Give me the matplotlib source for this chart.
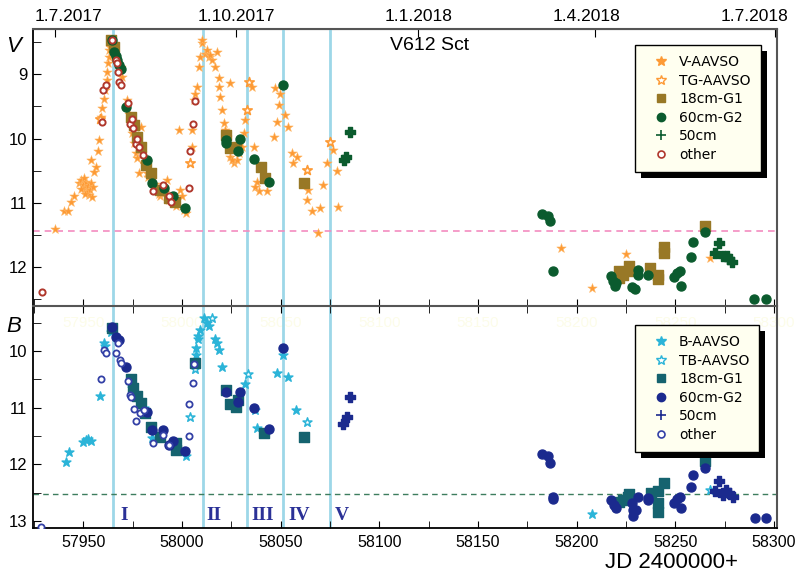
import matplotlib
matplotlib.use("Agg")
import matplotlib.pyplot as plt
from matplotlib.patches import Rectangle
from matplotlib.lines import Line2D
from matplotlib.ticker import MultipleLocator

# ---------------- data (JD-2400000, magnitude) ----------------
# V band
v_aavso_jd = [57935.8, 57940.0, 57942.0, 57943.7, 57945.4, 57947.7, 57948.7, 57949.7, 57950.8, 57951.3,
              57951.8, 57952.3, 57952.8, 57953.3, 57953.8, 57954.3, 57950.3, 57953.8, 57956.3, 57957.2,
              57958.0, 57958.8, 57959.7, 57960.5, 57960.9, 57961.9, 57962.2, 57962.5, 57963.0, 57963.9,
              57964.4, 57968.9, 57969.8, 57972.3, 57973.1, 57974.0, 57974.8, 57975.7, 57976.5, 57978.2,
              57979.0, 57979.9, 57980.7, 57982.4, 57984.1, 57985.8, 57987.5, 57989.1, 57990.8, 57992.5,
              57993.3, 57995.9, 57999.2, 58000.9, 58001.8, 57998.4, 58005.1, 58005.1, 58006.0, 58006.8,
              58007.7, 58008.5, 58009.3, 58010.2, 58010.2, 58011.9, 58013.5, 58015.2, 58016.9, 58017.8,
              58018.6, 58019.4, 58020.3, 58021.1, 58022.0, 58022.8, 58024.5, 58024.5, 58026.2, 58027.9,
              58030.4, 58031.2, 58032.1, 58035.4, 58036.3, 58038.0, 58038.8, 58043.0,
              58046.4, 58047.2, 58048.1, 58048.9, 58049.7, 58052.3, 58053.9, 58055.6, 58056.5, 58058.2,
              58064.0, 58063.2, 58065.7, 58069.9, 58069.1, 58071.6, 58073.3, 58076.6, 58078.4, 58079.2,
              58192.3, 58208.0, 58225.1, 58267.4,
              57949.0, 57951.0, 57954.8, 57955.5, 57962.8, 57963.5, 57977.0, 57983.0, 57986.5, 57988.3,
              57991.5, 57994.2, 57997.0, 58000.0, 58012.5, 58014.2, 58019.0, 58025.5, 58029.0, 58037.2]
v_aavso_mag = [11.41, 11.12, 11.13, 10.98, 10.90, 10.69, 10.64, 10.72, 10.77, 10.67,
               10.83, 10.74, 10.88, 10.80, 10.69, 10.91, 10.61, 10.33, 10.44, 10.20,
               10.02, 9.66, 9.53, 9.38, 9.25, 9.09, 8.96, 8.83, 8.73, 8.47,
               8.52, 8.89, 9.04, 9.40, 9.61, 9.76, 9.92, 10.07, 10.23, 10.54,
               9.82, 10.23, 10.38, 10.54, 10.64, 10.75, 10.80, 10.90, 10.75, 10.64,
               10.95, 11.00, 10.80, 11.11, 11.16, 9.87, 10.13, 9.87, 9.40, 9.30,
               9.20, 8.89, 8.73, 8.52, 8.47, 8.68, 8.73, 8.78, 8.89, 8.65,
               9.20, 9.35, 9.56, 9.76, 9.87, 9.97, 9.14, 10.28, 10.38, 10.33,
               10.13, 9.92, 9.71, 9.20, 10.13, 10.67, 10.82, 10.82,
               9.97, 9.22, 9.74, 9.48, 9.30, 9.64, 9.82, 10.23, 10.38, 10.28,
               10.80, 10.95, 11.13, 11.08, 11.47, 10.72, 10.38, 10.18, 10.51, 11.06,
               11.70, 12.32, 11.79, 11.86,
               10.78, 10.86, 10.76, 10.52, 8.62, 8.58, 10.30, 10.60, 10.70, 10.86,
               10.83, 10.92, 11.05, 10.90, 8.62, 8.70, 9.05, 10.33, 10.22, 10.75]

v_tg_jd = [58004.3, 58032.9, 58034.2, 58075.0, 58063.2, 57958.5, 57981.0]
v_tg_mag = [10.38, 9.56, 9.12, 10.05, 10.49, 9.70, 10.40]

v_18cm_jd = [57963.9, 57965.6, 57974.0, 57975.7, 57977.4, 57979.0, 57981.6, 57984.1, 57989.1, 57993.3,
             57996.7, 58022.1, 58024.5, 58027.5, 58040.0, 58042.2, 58062.0,
             58221.4, 58221.4, 58223.5, 58226.5, 58226.5, 58237.1, 58241.3, 58241.3, 58244.2, 58244.2, 58265.2]
v_18cm_mag = [8.47, 8.58, 9.66, 9.79, 9.97, 10.13, 10.41, 10.54, 10.80, 10.93,
              10.98, 9.95, 10.15, 10.13, 10.44, 10.62, 10.69,
              12.06, 12.17, 12.13, 11.99, 12.06, 12.01, 12.12, 12.19, 11.68, 11.78, 11.36]

v_60cm_jd = [57964.4, 57965.6, 57966.4, 57967.3, 57968.1, 57968.9, 57971.5, 57982.4, 57984.6, 57990.8,
             57995.3, 58001.4, 58022.5, 58022.5, 58028.2, 58029.2, 58036.3, 58044.3, 58051.1,
             58182.4, 58185.7, 58186.4, 58188.1, 58217.2, 58218.6, 58219.4, 58219.8, 58228.2, 58229.5,
             58231.0, 58231.2, 58236.2, 58249.2, 58250.9, 58252.1, 58253.1, 58258.1, 58258.9, 58265.2,
             58290.0, 58295.8]
v_60cm_mag = [8.47, 8.65, 8.71, 8.78, 8.86, 8.91, 9.51, 10.33, 10.69, 10.77,
              10.89, 11.08, 10.02, 10.07, 10.20, 10.01, 10.32, 10.68, 9.16,
              11.17, 11.21, 11.29, 12.06, 12.14, 12.22, 12.30, 12.24, 12.31, 12.34,
              12.04, 12.12, 12.12, 12.15, 12.09, 12.06, 12.30, 11.84, 11.61, 11.46,
              12.50, 12.49]

v_50cm_jd = [58085.1, 58083.1, 58082.1, 58271.9, 58269.9, 58273.9, 58276.1, 58277.3, 58278.6]
v_50cm_mag = [9.89, 10.28, 10.34, 11.62, 11.78, 11.83, 11.82, 11.87, 11.92]

v_other_jd = [57928.9, 57959.3, 57960.2, 57961.5, 57964.4, 57966.4, 57967.3, 57967.6, 57968.1, 57969.3,
              57972.6, 57973.6, 57974.5, 57975.3, 57976.5, 57977.4, 57978.2, 57980.4, 57985.4, 57990.3,
              57993.3, 57994.5, 58003.4, 58004.3, 58005.4, 58006.5]
v_other_mag = [12.39, 9.74, 9.24, 9.17, 8.46, 8.77, 8.83, 8.96, 9.12, 9.17,
               9.44, 9.78, 9.70, 9.83, 10.08, 10.01, 10.13, 10.26, 10.82, 10.72,
               10.90, 10.98, 10.77, 10.20, 9.78, 9.42]

# B band
b_aavso_jd = [57941.2, 57942.5, 57949.6, 57951.3, 57952.4, 57953.8, 57958.2, 57960.5, 57960.9, 57963.9,
              57974.8, 57980.7, 57985.0, 57996.7, 58002.1, 58006.5, 58007.2, 58007.3, 58008.2, 58008.3,
              58009.3, 58011.0, 58012.7, 58013.9, 58016.9, 58017.8, 58018.9, 58020.3, 58032.1,
              58037.1, 58038.0, 58048.1, 58051.1, 58053.9, 58057.8, 58208.0]
b_aavso_mag = [11.96, 11.79, 11.60, 11.57, 11.55, 11.58, 10.79, 9.86, 9.92, 9.66,
               10.66, 11.01, 11.54, 11.75, 11.86, 10.22, 10.07, 9.95, 9.79, 9.74,
               9.63, 9.41, 9.51, 9.56, 9.78, 9.86, 9.98, 10.29, 10.59,
               11.05, 11.36, 10.38, 10.07, 10.46, 11.05, 12.88]

b_tb_jd = [58006.5, 58033.2, 58063.2, 58267.7, 58015.2, 58004.3]
b_tb_mag = [10.31, 10.41, 11.25, 12.45, 9.42, 11.16]

b_18cm_jd = [57964.4, 57974.3, 57975.1, 57977.4, 57979.4, 57981.0, 57984.4, 57989.1, 57997.2, 57997.1,
             58006.5, 58022.3, 58024.1, 58027.5, 58028.2, 58041.3, 58062.0,
             58221.4, 58223.5, 58226.1, 58226.5, 58237.4, 58241.3, 58241.3, 58241.3, 58244.2, 58265.2]
b_18cm_mag = [9.60, 10.50, 10.66, 10.79, 10.92, 11.10, 11.34, 11.51, 11.63, 11.75,
              10.21, 10.69, 10.94, 10.98, 10.86, 11.45, 11.51,
              12.67, 12.63, 12.57, 12.52, 12.51, 12.48, 12.69, 12.85, 12.33, 11.95]

b_60cm_jd = [57964.4, 57966.4, 57968.1, 57971.5, 57982.4, 57984.6, 57990.5, 57993.3, 57995.3, 58001.3,
             58022.3, 58028.2, 58029.2, 58036.3, 58044.3, 58051.1,
             58182.4, 58185.7, 58186.4, 58188.1, 58188.1, 58217.2, 58218.9, 58219.8, 58228.2, 58228.7,
             58228.5, 58230.2, 58231.2, 58236.2, 58236.3, 58249.2, 58250.9, 58252.1, 58253.1, 58258.1,
             58259.1, 58265.2, 58290.1, 58295.8]
b_60cm_mag = [9.58, 9.75, 9.81, 10.29, 11.07, 11.39, 11.39, 11.66, 11.58, 11.76,
              10.72, 10.90, 10.72, 11.01, 11.38, 9.95,
              11.82, 11.85, 11.98, 12.57, 12.61, 12.63, 12.72, 12.78, 12.69, 12.80,
              12.92, 12.80, 12.57, 12.60, 12.63, 12.68, 12.62, 12.57, 12.78, 12.40,
              12.19, 12.07, 12.94, 12.94]

b_50cm_jd = [58081.7, 58083.4, 58085.1, 58271.9, 58269.9, 58273.9, 58275.8, 58277.3, 58279.0]
b_50cm_mag = [11.28, 11.16, 10.82, 12.29, 12.48, 12.55, 12.45, 12.51, 12.58]

b_other_jd = [57928.5, 57960.5, 57961.5, 57959.2, 57967.8, 57966.4, 57968.6, 57968.9, 57972.6, 57973.6,
              57974.3, 57975.7, 57976.5, 57978.5, 57980.7, 57985.4, 57990.5, 57993.3, 58003.8, 58006.3,
              58005.4, 58003.4]
b_other_mag = [13.10, 9.98, 10.03, 10.50, 9.86, 10.03, 10.16, 10.21, 10.53, 10.78,
               10.82, 11.02, 11.23, 11.10, 11.04, 11.62, 11.48, 11.66, 10.94, 10.23,
               10.56, 11.50]

event_jd = [57965.0, 58010.5, 58033.0, 58051.0, 58075.0]
event_labels = ["I", "II", "III", "IV", "V"]
event_label_jd = [57970.6, 58016.4, 58040.8, 58059.3, 58080.9]
v_ref_level = 11.44
b_ref_level = 12.52

date_tick_jd = [57935.5, 58027.5, 58119.5, 58209.5, 58300.5]
date_tick_labels = ["1.7.2017", "1.10.2017", "1.1.2018", "1.4.2018", "1.7.2018"]
date_label_jd = [57942.5, 58027.7, 58120.1, 58205.1, 58289.9]

# ---------------- styling ----------------
C_ORANGE = "#fd9a35"
C_OLIVE = "#987826"
C_DGREEN = "#0b5b2e"
C_DRED = "#b0372c"
C_CYAN = "#2bb4d8"
C_TEAL = "#15636f"
C_NAVY = "#1b2a8e"
C_OPENB = "#3340a6"
C_VLINE = "#9dd7e8"

plt.rcParams["font.family"] = ["Liberation Sans", "DejaVu Sans"]

W, H = 803, 573
fig = plt.figure(figsize=(W / 100, H / 100), dpi=100)

def fx(px):
    return px / W

def fy(py):
    return 1 - py / H

x0, x1 = 33, 777
yt0, ymid, yb1 = 29.3, 305.7, 528.3
axV = fig.add_axes([fx(x0), fy(ymid), fx(x1 - x0), (ymid - yt0) / H])
axB = fig.add_axes([fx(x0), fy(yb1), fx(x1 - x0), (yb1 - ymid) / H])

xlim = (57924.5, 58301.5)
for ax in (axV, axB):
    ax.set_xlim(*xlim)
    ax.xaxis.set_major_locator(MultipleLocator(50))
    ax.xaxis.set_minor_locator(MultipleLocator(25))
    ax.yaxis.set_major_locator(MultipleLocator(1))
    ax.yaxis.set_minor_locator(MultipleLocator(0.5))
    for sp in ("left", "bottom"):
        ax.spines[sp].set_color("black")
        ax.spines[sp].set_linewidth(1.3)
    for sp in ("top", "right"):
        ax.spines[sp].set_color("#555555")
        ax.spines[sp].set_linewidth(1.5)

axV.set_ylim(12.6, 8.3)
axB.set_ylim(13.13, 9.2)

# vertical event lines
for ax in (axV, axB):
    for x in event_jd:
        ax.axvline(x, color=C_VLINE, lw=2.0, zorder=1)

axV.axhline(v_ref_level, color="#f48cc0", lw=1.2, ls=(0, (4, 3)), zorder=1)
axB.axhline(b_ref_level, color="#3d7d5e", lw=1.0, ls=(0, (4, 3)), zorder=1)

# ---- V panel ----
axV.scatter(v_aavso_jd, v_aavso_mag, marker="*", s=50, color=C_ORANGE, edgecolors="#ffb766", linewidths=0.4, zorder=2)
axV.scatter(v_tg_jd, v_tg_mag, marker="*", s=50, facecolors="white", edgecolors=C_ORANGE, linewidths=1.2, zorder=2)
axV.scatter(v_18cm_jd, v_18cm_mag, marker="s", s=42, color=C_OLIVE, zorder=3)
axV.scatter(v_60cm_jd, v_60cm_mag, marker="o", s=42, color=C_DGREEN, zorder=4)
axV.scatter(v_50cm_jd, v_50cm_mag, marker="P", s=45, color=C_DGREEN, zorder=4)
axV.scatter(v_other_jd, v_other_mag, marker="o", s=20, facecolors="white", edgecolors=C_DRED, linewidths=1.4, zorder=5)

# ---- B panel ----
axB.scatter(b_aavso_jd, b_aavso_mag, marker="*", s=45, color=C_CYAN, zorder=2)
axB.scatter(b_tb_jd, b_tb_mag, marker="*", s=45, facecolors="white", edgecolors=C_CYAN, linewidths=1.1, zorder=2)
axB.scatter(b_18cm_jd, b_18cm_mag, marker="s", s=42, color=C_TEAL, zorder=3)
axB.scatter(b_60cm_jd, b_60cm_mag, marker="o", s=42, color=C_NAVY, zorder=4)
axB.scatter(b_50cm_jd, b_50cm_mag, marker="P", s=45, color=C_NAVY, zorder=4)
axB.scatter(b_other_jd, b_other_mag, marker="o", s=20, facecolors="white", edgecolors=C_OPENB, linewidths=1.3, zorder=5)

for lab, x in zip(event_labels, event_label_jd):
    axB.text(x, 12.9, lab, ha="center", va="center", fontsize=14, fontweight="bold",
             family=["Liberation Serif", "DejaVu Serif"], color="#2b3197", zorder=6)

# pale hidden tick labels at top of B panel
for t in range(57950, 58301, 50):
    axB.text(t, 9.5, str(t), ha="center", va="center", fontsize=11, color="#fcfce9", zorder=0)

# ticks
axV.tick_params(axis="x", which="both", direction="in", bottom=True, top=False, labelbottom=False, length=5)
axV.tick_params(axis="y", which="both", direction="in", left=True, right=False, length=6, labelsize=12, pad=4)
axB.tick_params(axis="x", which="both", direction="in", bottom=True, top=True, labelbottom=True, length=5, labelsize=11.5, pad=5)
axB.tick_params(axis="y", which="both", direction="in", left=True, right=False, length=6, labelsize=12, pad=4)

secax = axV.secondary_xaxis("top")
secax.set_xticks(date_tick_jd)
secax.set_xticklabels([""] * len(date_tick_jd))
secax.tick_params(direction="in", length=6, pad=0)
secax.spines["top"].set_color("#555555")
for lab, x in zip(date_tick_labels, date_label_jd):
    axV.text(x, 1.0, lab, transform=axV.get_xaxis_transform(), ha="center", va="bottom",
             fontsize=12.5, clip_on=False)

# move date labels slightly up via offset
from matplotlib.transforms import offset_copy
for t in axV.texts[-len(date_tick_labels):]:
    t.set_transform(offset_copy(axV.get_xaxis_transform(), fig=fig, x=0, y=5, units="dots"))

axV.text(58125.5, 8.55, "V612 Sct", ha="center", va="center", fontsize=14)
fig.text(fx(14), fy(46), "V", fontsize=16, style="italic", ha="center", va="center")
fig.text(fx(14), fy(327), "B", fontsize=16, style="italic", ha="center", va="center")
fig.text(fx(672), fy(562), "JD 2400000+", fontsize=16, ha="center", va="center")

# ---- legends ----
def make_handles(cols):
    star_c, open_c, sq_c, circ_c, plus_c, oth_c = cols
    return [
        Line2D([], [], ls="none", marker="*", ms=7, color=star_c),
        Line2D([], [], ls="none", marker="*", ms=7, mfc="white", mec=open_c, mew=1.0),
        Line2D([], [], ls="none", marker="s", ms=6, color=sq_c),
        Line2D([], [], ls="none", marker="o", ms=6, color=circ_c),
        Line2D([], [], ls="none", marker="+", ms=7, mew=1.2, color=plus_c),
        Line2D([], [], ls="none", marker="o", ms=5, mfc="white", mec=oth_c, mew=1.2),
    ]

leg_kw = dict(loc="upper left", frameon=True, fancybox=False, facecolor="#fffff0", edgecolor="black",
              framealpha=1, borderpad=0.7, handlelength=2.4, handletextpad=0.1, labelspacing=0.33,
              prop={"family": "DejaVu Sans", "size": 10})

legV = fig.legend(make_handles([C_ORANGE, C_ORANGE, C_OLIVE, C_DGREEN, C_DGREEN, C_DRED]),
                  ["V-AAVSO", "TG-AAVSO", "18cm-G1", "60cm-G2", "50cm", "other"],
                  bbox_to_anchor=(fx(628), fy(38.3)), **leg_kw)
legB = fig.legend(make_handles([C_CYAN, C_CYAN, C_TEAL, C_NAVY, C_NAVY, C_OPENB]),
                  ["B-AAVSO", "TB-AAVSO", "18cm-G1", "60cm-G2", "50cm", "other"],
                  bbox_to_anchor=(fx(627.7), fy(318.3)), **leg_kw)
for lg in (legV, legB):
    lg.get_frame().set_linewidth(1.0)
    lg.set_zorder(10)

fig.canvas.draw()
for lg in (legV, legB):
    bb = lg.get_window_extent()
    sh = Rectangle(((bb.x0 + 6) / W, (bb.y0 - 6) / H), bb.width / W, bb.height / H,
                   transform=fig.transFigure, facecolor="black", edgecolor="none", zorder=9)
    fig.patches.append(sh)

fig.savefig("out.png", dpi=100)
